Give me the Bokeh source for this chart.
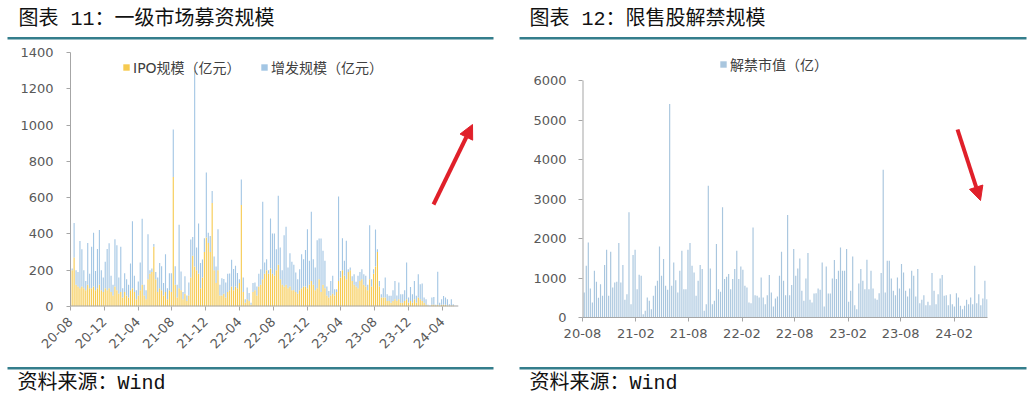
import math
import pandas as pd
from bokeh.plotting import figure
from bokeh.models import (Range1d, FixedTicker, DatetimeTickFormatter, Legend, LegendItem,
                          Arrow, NormalHead, ColumnDataSource, Label)
from bokeh.layouts import row, column
from bokeh.embed import file_html
from bokeh.resources import INLINE

# ---------------- texts ----------------
title_left = "图表 11：一级市场募资规模"
title_right = "图表 12：限售股解禁规模"
source_note = "资料来源：Wind"
ipo_label = "IPO规模（亿元）"
zf_label = "增发规模（亿元）"
jj_label = "解禁市值（亿）"

# ---------------- ticks ----------------
left_ticks = ["2020-08-01", "2020-12-01", "2021-04-01", "2021-08-01", "2021-12-01", "2022-04-01",
              "2022-08-01", "2022-12-01", "2023-04-01", "2023-08-01", "2023-12-01", "2024-04-01"]
right_ticks = ["2020-08-01", "2021-02-01", "2021-08-01", "2022-02-01", "2022-08-01", "2023-02-01",
               "2023-08-01", "2024-02-01"]
y_left_ticks = [0, 200, 400, 600, 800, 1000, 1200, 1400]
y_right_ticks = [0, 1000, 2000, 3000, 4000, 5000, 6000]

# ---------------- data (weekly, from 2020-08-07) ----------------
ipo = [200, 270, 120, 110, 100, 110, 100, 90, 120, 100, 100, 110, 90, 100, 120, 90, 80, 100, 90, 100,
       80, 60, 110, 90, 70, 80, 50, 80, 60, 50, 90, 100, 80, 40, 60, 90, 120, 60, 40, 150,
       180, 190, 330, 150, 80, 100, 90, 60, 80, 40, 90, 80, 714, 120, 50, 100, 90, 40, 70, 30,
       60, 160, 280, 220, 200, 180, 100, 160, 300, 380, 350, 300, 570, 200, 130, 200, 60, 60, 70, 50,
       80, 90, 110, 90, 110, 100, 130, 560, 80, 20, 40, 30, 10, 80, 90, 60, 110, 120, 150, 180,
       200, 180, 210, 180, 170, 200, 230, 150, 120, 110, 120, 100, 110, 90, 90, 80, 70, 90, 100, 110,
       110, 100, 120, 140, 120, 90, 100, 150, 80, 120, 100, 60, 50, 60, 70, 60, 80, 140, 160, 200,
       170, 150, 190, 200, 140, 120, 110, 100, 140, 150, 120, 110, 90, 150, 110, 180, 220, 300, 110, 50,
       50, 50, 30, 30, 20, 30, 40, 30, 40, 20, 20, 30, 40, 20, 30, 20, 40, 20, 50, 40,
       30, 20, 10, 5, 0, 10, 10, 5, 10, 5, 10, 10, 10, 5, 5, 5, 5]
zengfa = [10, 190, 80, 80, 261, 205, 100, 50, 230, 80, 230, 297, 106, 217, 302, 110, 80, 146, 227, 249,
          90, 60, 260, 248, 90, 250, 50, 103, 90, 70, 147, 370, 89, 50, 78, 152, 364, 60, 50, 248,
          20, 20, 15, 40, 80, 140, 132, 70, 208, 60, 93, 103, 262, 102, 70, 350, 103, 40, 97, 30,
          72, 209, 103, 1080, 125, 277, 140, 99, 76, 358, 57, 89, 67, 75, 90, 226, 60, 96, 82, 82,
          100, 92, 147, 117, 114, 85, 20, 140, 80, 20, 65, 45, 10, 50, 42, 50, 70, 85, 428, 62,
          60, 20, 275, 222, 232, 116, 380, 175, 80, 283, 320, 115, 184, 156, 140, 107, 80, 115, 188, 151,
          202, 326, 132, 382, 141, 125, 265, 225, 295, 187, 152, 50, 36, 81, 99, 35, 15, 466, 36, 176,
          82, 212, 15, 15, 27, 58, 26, 69, 50, 55, 58, 59, 30, 298, 40, 25, 204, 16, 31, 18,
          50, 110, 38, 29, 39, 60, 101, 30, 92, 48, 48, 60, 202, 30, 78, 48, 101, 39, 128, 83,
          97, 30, 30, 5, 5, 40, 43, 5, 181, 15, 30, 48, 40, 35, 8, 35, 8]
jiejin = [634, 1310, 1900, 735, 380, 1183, 904, 500, 845, 549, 1327, 1715, 549, 1665, 760, 887, 904, 1884, 887, 1327,
          448, 591, 2662, 338, 1580, 1715, 718, 1080, 1056, 85, 169, 507, 422, 211, 549, 802, 930, 1800, 1056, 1479,
          802, 700, 5408, 802, 1394, 946, 634, 1183, 1690, 718, 718, 1715, 1884, 1310, 1141, 549, 930, 1327, 1225, 169,
          338, 3338, 1242, 338, 422, 1859, 718, 651, 2789, 972, 1031, 1099, 718, 972, 1225, 1690, 972, 1293, 1208, 802,
          760, 380, 363, 2282, 566, 549, 507, 1014, 507, 338, 566, 1073, 634, 279, 482, 532, 1056, 1665, 930, 566,
          2594, 566, 820, 1732, 1056, 1242, 1496, 676, 422, 989, 1631, 448, 380, 608, 617, 735, 701, 1394, 279, 1293,
          608, 608, 989, 1453, 972, 1183, 1775, 1183, 1183, 1732, 397, 676, 1546, 313, 211, 862, 1225, 930, 718, 1462,
          718, 1183, 735, 482, 448, 617, 1124, 3743, 634, 1436, 1436, 989, 676, 566, 1014, 735, 1352, 1141, 676, 532,
          735, 1183, 1056, 532, 1225, 363, 448, 566, 313, 397, 313, 1124, 676, 338, 591, 989, 1073, 549, 566, 313,
          591, 338, 279, 617, 507, 296, 211, 296, 448, 338, 507, 338, 1310, 363, 591, 313, 482, 930, 465]

weeks_left = pd.date_range("2020-08-07", periods=len(ipo), freq="7D")
weeks_right = pd.date_range("2020-08-07", periods=len(jiejin), freq="7D")

# ---------------- styles ----------------
TEAL = "#347e8c"
YELLOW = "#f6ca50"
BLUE = "#a3c6e4"
BLUE_R = "#a9c6de"
RED = "#e0202a"
AXIS = "#a6a6a6"
LABEL = "#595959"
NUM_FONT = "DejaVu Sans"
MIX_FONT = "DejaVu Sans, Noto Sans CJK SC"
TITLE_FONT = "Liberation Mono, Noto Sans CJK SC"
DAY = 86400000


def ms(d):
    return int(pd.Timestamp(d).timestamp() * 1000)


def blank(width, height):
    p = figure(width=width, height=height, x_range=Range1d(0, width), y_range=Range1d(0, height),
               output_backend="svg", toolbar_location=None, min_border=0, frame_align=False,
               x_axis_location=None, y_axis_location=None)
    p.grid.visible = False
    p.outline_line_color = None
    return p


def header(title, width, tx, x0, x1):
    p = blank(width, 42)
    p.add_layout(Label(x=tx, y=23, text=title, text_font=TITLE_FONT, text_font_size="20px",
                       text_baseline="middle", text_color="#111111"))
    p.segment(x0=[x0], y0=[4.3], x1=[x1], y1=[4.3], line_width=2.5, line_color=TEAL)
    return p


def footer(width, tx, x0, x1):
    p = blank(width, 40)
    p.segment(x0=[x0], y0=[34.3], x1=[x1], y1=[34.3], line_width=2.5, line_color=TEAL)
    p.add_layout(Label(x=tx, y=19, text=source_note, text_font=TITLE_FONT, text_font_size="20px",
                       text_baseline="middle", text_color="#111111"))
    return p


def style_axes(p):
    for ax in (p.xaxis[0], p.yaxis[0]):
        ax.axis_line_color = AXIS
        ax.major_tick_line_color = AXIS
        ax.major_tick_out = 4
        ax.major_tick_in = 0
        ax.minor_tick_line_color = None
        ax.major_label_text_font = NUM_FONT
        ax.major_label_text_font_size = "13px"
        ax.major_label_text_color = LABEL
    p.grid.visible = False
    p.outline_line_color = None


fmt = dict(microseconds="%y-%m", milliseconds="%y-%m", seconds="%y-%m", minsec="%y-%m",
           minutes="%y-%m", hourmin="%y-%m", hours="%y-%m", days="%y-%m", months="%y-%m", years="%y-%m")


def mk_legend(label, renderer, loc):
    return Legend(items=[LegendItem(label=label, renderers=[renderer])], location=loc,
                  orientation="horizontal", glyph_width=8, glyph_height=8, label_standoff=3,
                  label_height=16, padding=0, margin=0, spacing=0, border_line_color=None,
                  background_fill_alpha=0, label_text_font=MIX_FONT, label_text_font_size="14px",
                  label_text_color="#404040")


# ---------------- left chart ----------------
left_start = ms("2020-08-01")
left_axis_end = ms("2024-05-28")
src_l = ColumnDataSource(dict(x=weeks_left, ipo=ipo, zf=zengfa))
pl = figure(width=518, height=320, x_axis_type="datetime",
            x_range=Range1d(left_start, ms("2024-08-16")), y_range=Range1d(0, 1400),
            output_backend="svg", toolbar_location=None, frame_align=False,
            min_border_left=70, min_border_right=38, min_border_top=10, min_border_bottom=56)
rs = pl.vbar_stack(["ipo", "zf"], x="x", width=4 * DAY, fill_color=[YELLOW, BLUE], line_color=None,
                   source=src_l)
style_axes(pl)
pl.xaxis.axis_line_color = None
pl.segment(x0=[left_start], y0=[0], x1=[left_axis_end], y1=[0], line_color=AXIS, line_width=2)
pl.yaxis.ticker = FixedTicker(ticks=y_left_ticks)
pl.yaxis.major_label_standoff = 13
pl.xaxis.ticker = FixedTicker(ticks=[ms(d) for d in left_ticks])
pl.xaxis.formatter = DatetimeTickFormatter(**fmt)
pl.xaxis.major_label_orientation = math.pi / 4
pl.xaxis.major_label_standoff = 9
pl.add_layout(mk_legend(ipo_label, rs[0], (52, 229)))
pl.add_layout(mk_legend(zf_label, rs[1], (190, 229)))
pl.add_layout(Arrow(end=NormalHead(size=14, fill_color=RED, line_color=RED), x_start=363, y_start=102,
                    x_end=402, y_end=182, start_units="screen", end_units="screen",
                    line_color=RED, line_width=4))

# ---------------- right chart ----------------
right_start = ms("2020-08-01")
src_r = ColumnDataSource(dict(x=weeks_right, jj=jiejin))
pr = figure(width=514, height=320, x_axis_type="datetime",
            x_range=Range1d(right_start, ms("2024-05-26")), y_range=Range1d(0, 6558),
            output_backend="svg", toolbar_location=None, frame_align=False,
            min_border_left=64, min_border_right=45, min_border_top=16, min_border_bottom=45)
rj = pr.vbar(x="x", top="jj", width=4 * DAY, fill_color=BLUE_R, line_color=None, source=src_r)
style_axes(pr)
pr.yaxis.axis_line_color = None
pr.segment(x0=[right_start], y0=[0], x1=[right_start], y1=[y_right_ticks[-1]], line_color=AXIS, line_width=2)
pr.yaxis.ticker = FixedTicker(ticks=y_right_ticks)
pr.yaxis.major_label_standoff = 12
pr.xaxis.ticker = FixedTicker(ticks=[ms(d) for d in right_ticks])
pr.xaxis.formatter = DatetimeTickFormatter(**fmt)
pr.xaxis.major_label_standoff = 7
pr.add_layout(mk_legend(jj_label, rj, (137, 243)))
pr.add_layout(Arrow(end=NormalHead(size=14, fill_color=RED, line_color=RED), x_start=375, y_start=188,
                    x_end=398, y_end=117, start_units="screen", end_units="screen",
                    line_color=RED, line_width=4))

layout = row(
    column(header(title_left, 518, 18, 7, 493), pl, footer(518, 17, 7, 493)),
    column(header(title_right, 514, 11, 1, 508), pr, footer(514, 11, 1, 508)),
)

open("out.html", "w").write(file_html(layout, INLINE))
